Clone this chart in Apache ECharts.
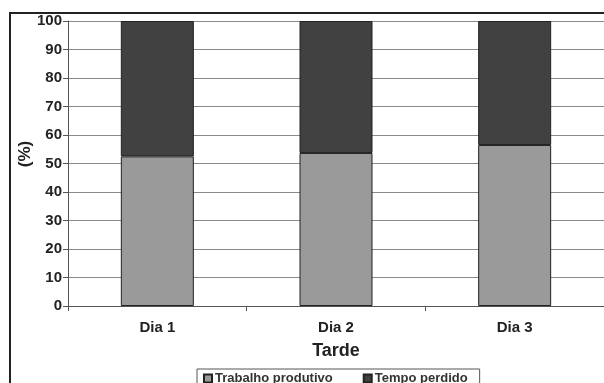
<!DOCTYPE html>
<html><head><meta charset="utf-8">
<script src="https://cdn.jsdelivr.net/npm/echarts@6/dist/echarts.min.js"></script>
<style>html,body{margin:0;padding:0;background:#fff}#c{width:604px;height:383px}</style>
</head><body><div id="c"></div>
<script>
const categories = ['Dia 1', 'Dia 2', 'Dia 3'];
const trabalhoProdutivo = [52.5, 53.7, 56.5];
const tempoPerdido = [47.5, 46.3, 43.5];
const yTicks = [0, 10, 20, 30, 40, 50, 60, 70, 80, 90, 100];
const seriesNames = ['Trabalho produtivo', 'Tempo perdido'];
const xTitle = 'Tarde';
const yTitle = '(%)';

const chart = echarts.init(document.getElementById('c'), null, {renderer: 'canvas'});
const font = 'Liberation Sans, Arial, sans-serif';
chart.setOption({
  backgroundColor: '#fff',
  animation: false,
  textStyle: {fontFamily: font},
  graphic: [
    {type: 'rect', shape: {x: 10, y: 13, width: 620, height: 400}, style: {fill: 'none', stroke: '#222', lineWidth: 2}, z: 100},
    {type: 'text', x: 25, y: 154, rotation: Math.PI / 2,
     style: {text: yTitle, font: 'bold 17px ' + font, fill: '#222', align: 'center', verticalAlign: 'middle'}}
  ],
  grid: {left: 68, right: -4, top: 21, bottom: 77, containLabel: false},
  legend: {
    data: seriesNames,
    left: 197, top: 369,
    itemWidth: 8, itemHeight: 8, itemGap: 30,
    icon: 'rect',
    borderColor: '#555', borderWidth: 1,
    padding: [3, 12, 4, 6],
    textStyle: {fontFamily: font, fontWeight: 'bold', fontSize: 13, color: '#333', padding: [0, 0, 0, -2]}
  },
  xAxis: {
    type: 'category', data: categories,
    name: xTitle, nameLocation: 'middle', nameGap: 36,
    nameTextStyle: {fontFamily: font, fontWeight: 'bold', fontSize: 18, color: '#222'},
    axisLine: {lineStyle: {color: '#555', width: 1}},
    axisTick: {show: true, length: 5, lineStyle: {color: '#555'}},
    axisLabel: {fontFamily: font, fontWeight: 'bold', fontSize: 15, color: '#222', margin: 14}
  },
  yAxis: {
    type: 'value', min: 0, max: 100, interval: 10,
    axisLine: {show: true, lineStyle: {color: '#555', width: 1}},
    axisTick: {show: true, length: 5, lineStyle: {color: '#555'}},
    axisLabel: {fontFamily: font, fontWeight: 'bold', fontSize: 15, color: '#222', margin: 6,
      formatter: v => yTicks.includes(v) ? String(v) : ''},
    splitLine: {show: true, lineStyle: {color: '#8a8a8a', width: 1}}
  },
  series: [
    {name: seriesNames[0], type: 'bar', stack: 't', data: trabalhoProdutivo, barWidth: 73,
     itemStyle: {color: '#9a9a9a', borderColor: '#222', borderWidth: 1}},
    {name: seriesNames[1], type: 'bar', stack: 't', data: tempoPerdido, barWidth: 73,
     itemStyle: {color: '#414141', borderColor: '#222', borderWidth: 1}}
  ]
});
</script></body></html>
